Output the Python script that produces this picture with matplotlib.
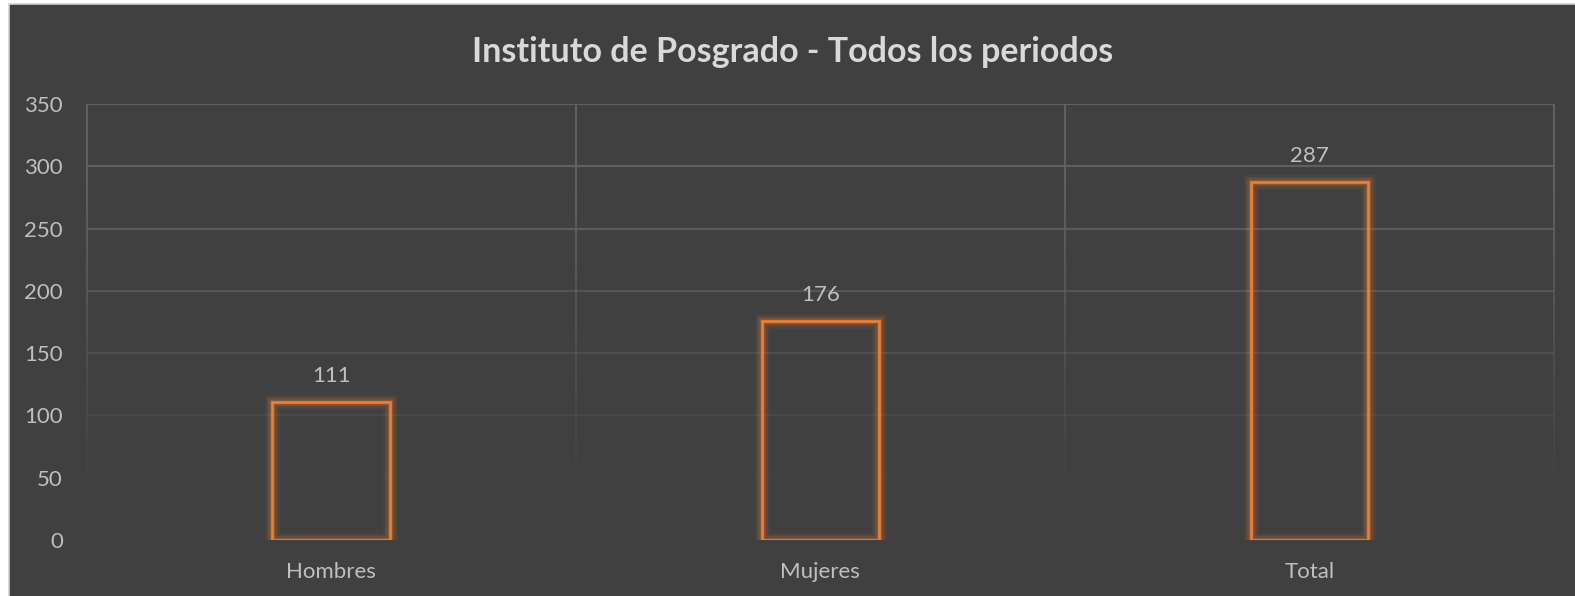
import matplotlib.pyplot as plt
import matplotlib.patches as mpatches
from matplotlib.collections import LineCollection
import numpy as np

categories = ["Hombres", "Mujeres", "Total"]
values = [111, 176, 287]
y_ticks = [0, 50, 100, 150, 200, 250, 300, 350]
title = "Instituto de Posgrado - Todos los periodos"

bg = "#404040"
orange = "#ED7D31"
text_col = "#BFBFBF"

plt.rcParams['font.family'] = ['Lato', 'DejaVu Sans']

fig = plt.figure(figsize=(15.75, 5.96), dpi=100)
fig.patch.set_facecolor("white")

# dark chart area with thin light frame
fig.patches.append(mpatches.Rectangle((9 / 1575, -0.01), 1.02, 1 - 4 / 596 + 0.01,
                                      transform=fig.transFigure, facecolor=bg,
                                      edgecolor="#D0D0D0", linewidth=1.2, zorder=-5))

ax = fig.add_axes([86.5 / 1575, 1 - 540 / 596, (1554 - 86.5) / 1575, (540 - 104) / 596])
ax.set_zorder(2)
ax.set_facecolor("none")
ax.set_xlim(-0.5, 2.5)
ax.set_ylim(0, 350)

# gradient gridlines (fade toward the bottom)
def fade(v):
    return float(np.clip((v - 35) / 250, 0, 1))

for v in y_ticks[1:]:
    a = fade(v)
    if a > 0:
        ax.axhline(v, color="#606060", alpha=a, linewidth=1.5, zorder=1)

ys = np.linspace(0, 350, 200)
for xb in [-0.5, 0.5, 1.5, 2.5]:
    segs = [[(xb, ys[i]), (xb, ys[i + 1])] for i in range(len(ys) - 1)]
    cols = [(0.376, 0.376, 0.376, fade(ys[i])) for i in range(len(ys) - 1)]
    ax.add_collection(LineCollection(segs, colors=cols, linewidths=1.5, zorder=1,
                                     clip_on=False))

# bars with soft orange glow
x = np.arange(len(categories))
w = 0.24
for lw, a in [(11, 0.06), (8, 0.09), (5.5, 0.14), (3.5, 0.2)]:
    ax.bar(x, values, width=w, facecolor="none", edgecolor=orange,
           linewidth=lw, alpha=a, zorder=2)
ax.bar(x, values, width=w, facecolor="none", edgecolor=orange, linewidth=2, zorder=3)

for xi, v in zip(x, values):
    ax.text(xi, v + 13, str(v), ha="center", va="bottom", color=text_col, fontsize=16)

for s in ax.spines.values():
    s.set_visible(False)
ax.set_xticks(x)
ax.set_xticklabels(categories)
ax.set_yticks(y_ticks)
ax.tick_params(length=0, colors=text_col, labelsize=16)
ax.tick_params(axis="x", pad=16)
ax.tick_params(axis="y", pad=17)

fig.text(793 / 1575, 1 - 52 / 596, title, ha="center", va="center",
         fontsize=24.5, fontweight="bold", color="#D9D9D9")

fig.savefig("out.png", dpi=100, facecolor=fig.get_facecolor())
